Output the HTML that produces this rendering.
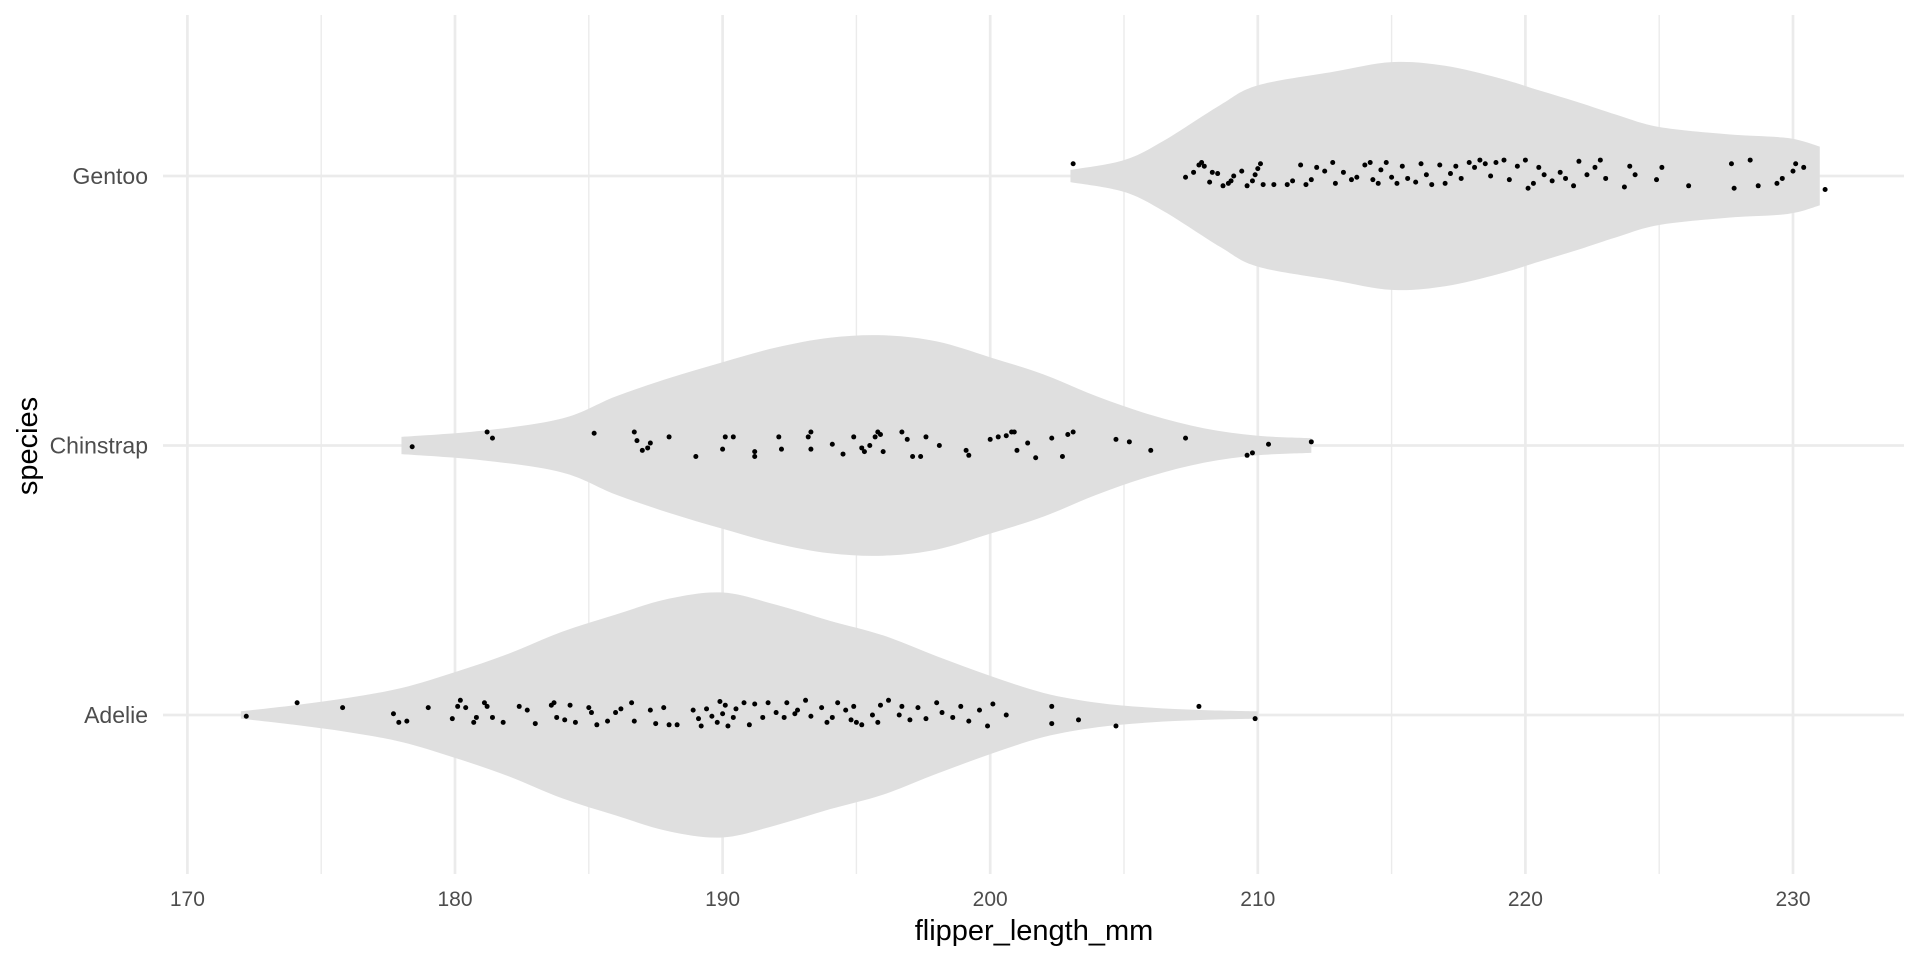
<!DOCTYPE html>
<html><head><meta charset="utf-8">
<style>
html,body{margin:0;padding:0;background:#fff;}
svg{display:block;font-family:"Liberation Sans",Arial,sans-serif;}
</style></head>
<body>
<svg id="chart" width="1920" height="960" viewBox="0 0 1920 960" xmlns="http://www.w3.org/2000/svg">
<g id="grid"></g>
<g id="violins"></g>
<g id="points"></g>
<g id="axes"></g>
<text x="1034" y="940" font-size="29" text-anchor="middle" fill="#000">flipper_length_mm</text>
<text transform="translate(37,446) rotate(-90)" font-size="29" text-anchor="middle" fill="#000">species</text>
</svg>
<script>
const categories = ["Adelie","Chinstrap","Gentoo"];
const xTicks = [170,180,190,200,210,220,230];
const xMinor = [175,185,195,205,215,225];
// violin density profiles (value grid, relative half-width)
const adelieGrid = [172,174,176,178,180,182,184,186,188,190,192,194,196,198,200,202,204,206,208,210];
const adelieDens = [3,8,14,22,35,50,68,82,95,100,90,77,65,48,32,18,10,6,4,3];
const chinGrid = [178,181,184,186,188,190,192,194,196,198,200,202,204,206,208,210,212];
const chinDens = [7,12,22,40,55,68,80,88,90,85,72,58,40,25,14,8,6];
const gentooGrid = [203,205,206.5,208.6,210,212.8,215,217,219,220.5,222,223.4,225,227.6,229.8,231];
const gentooDens = [5,13,29,58,74,85,93,90,80,70,60,50,40,34,31,24];
// observations and vertical jitter (jitter in 1/220 of category spacing)
const adelieVals = [172.2,174.1,175.8,177.7,177.9,178.2,179.0,179.9,180.1,180.2,180.4,180.7,180.8,181.1,181.2,181.4,181.8,182.4,182.7,183.0,183.6,183.7,183.8,184.1,184.3,184.5,185.0,185.1,185.3,185.7,186.0,186.2,186.6,186.7,187.3,187.5,187.8,188.0,188.3,188.9,189.1,189.2,189.4,189.6,189.8,189.9,190.0,190.1,190.2,190.4,190.5,190.8,191.0,191.2,191.5,191.7,192.0,192.3,192.4,192.7,192.8,193.1,193.3,193.7,193.9,194.1,194.3,194.6,194.8,194.9,195.0,195.2,195.6,195.8,195.9,196.2,196.6,196.7,197.0,197.3,197.6,198.0,198.2,198.6,198.9,199.2,199.6,199.9,200.1,200.6,202.3,202.3,203.3,204.7,207.8,209.9];
const adelieJit = [1,-10,-6,-1,6,5,-6,3,-7,-12,-6,6,2,-10,-7,2,6,-7,-4,7,-8,-10,2,4,-8,6,-6,-2,8,5,-2,-5,-10,5,-4,7,-6,8,8,-4,3,9,-5,1,6,-11,-1,-8,9,2,-5,-10,8,-9,2,-10,-2,2,-10,-1,-4,-12,1,-6,6,2,-10,-4,4,-7,6,8,0,6,-8,-12,0,-7,4,-6,3,-10,-2,2,-7,5,-4,9,-9,0,7,-7,4,9,-7,3];
const chinVals = [178.4,181.2,181.4,185.2,186.7,186.8,187.0,187.2,187.3,188.0,189.0,190.0,190.1,190.4,191.2,191.2,192.1,192.2,193.2,193.3,193.3,194.1,194.5,194.9,195.2,195.3,195.5,195.7,195.8,195.9,196.0,196.7,196.9,197.1,197.4,197.6,198.1,199.1,199.2,200.0,200.3,200.6,200.8,200.9,201.0,201.4,201.7,202.3,202.7,202.9,203.1,204.7,205.2,206.0,207.3,209.6,209.8,210.4,212.0];
const chinJit = [1,-11,-6,-10,-11,-4,4,2,-2,-7,9,3,-7,-7,5,9,-7,3,-7,-11,3,-1,7,-7,2,5,0,-7,-11,-9,5,-11,-5,9,9,-7,0,4,8,-5,-7,-8,-11,-11,4,-2,10,-6,9,-9,-11,-5,-3,4,-6,8,6,-1,-3];
const gentooVals = [203.1,207.3,207.6,207.8,207.9,208.0,208.2,208.3,208.5,208.7,208.9,209.0,209.1,209.4,209.6,209.8,209.9,210.0,210.1,210.2,210.6,211.1,211.3,211.6,211.8,212.0,212.2,212.5,212.8,212.9,213.2,213.5,213.7,214.0,214.2,214.3,214.5,214.6,214.8,215.0,215.2,215.4,215.6,215.9,216.1,216.3,216.5,216.8,217.0,217.2,217.4,217.6,217.9,218.1,218.3,218.5,218.7,218.9,219.2,219.4,219.7,220.0,220.1,220.3,220.5,220.7,221.0,221.3,221.5,221.8,222.0,222.3,222.6,222.8,223.0,223.7,223.9,224.1,224.9,225.1,226.1,227.7,227.8,228.4,228.7,229.4,229.6,230.0,230.1,230.4,231.2];
const gentooJit = [-10,1,-3,-9,-11,-8,5,-3,-2,8,6,4,0,-4,8,4,-1,-6,-10,7,7,7,4,-9,7,3,-7,-4,-11,6,-3,3,1,-9,-11,3,6,-5,-11,1,6,-8,2,5,-10,-1,7,-9,6,-2,-8,2,-11,-7,-13,-10,0,-11,-13,3,-8,-13,10,6,-7,-1,4,-3,2,8,-12,-1,-7,-13,2,9,-8,-1,3,-7,8,-10,10,-13,8,6,2,-4,-10,-7,11];

const NS="http://www.w3.org/2000/svg";
const X0=187.4, XPU=26.76, Y0=715, YSP=269.5, DSCALE=1.2245;
function xs(v){return X0+(v-170)*XPU;}
function ys(i){return Y0-i*YSP;}
function mk(tag,attrs,parent){const e=document.createElementNS(NS,tag);for(const k in attrs)e.setAttribute(k,attrs[k]);parent.appendChild(e);return e;}

const grid=document.getElementById('grid');
xMinor.forEach(v=>{
  const l=mk('line',{x1:xs(v),x2:xs(v),y1:15,y2:874,stroke:'#ebebeb','stroke-width':1.4},grid);
  
  
});
xTicks.forEach(v=>{
  const l=mk('line',{x1:xs(v),x2:xs(v),y1:15,y2:874,stroke:'#ebebeb','stroke-width':2.7},grid);
  
  
});
categories.forEach((c,i)=>{
  const l=mk('line',{x1:163,x2:1904,y1:ys(i),y2:ys(i),stroke:'#ebebeb','stroke-width':2.7},grid);
  
  
});

const axes=document.getElementById('axes');
xTicks.forEach(v=>{
  const t=mk('text',{x:xs(v),y:906,'font-size':21,'text-anchor':'middle',fill:'#4d4d4d'},axes);
  t.textContent=v;
  
  
});
categories.forEach((c,i)=>{
  const t=mk('text',{x:148,y:ys(i)+8,'font-size':23,'text-anchor':'end',fill:'#4d4d4d'},axes);
  t.textContent=c;
  
  
});

function smoothPath(pts){
  let d='M'+pts[0][0]+','+pts[0][1];
  for(let i=0;i<pts.length-1;i++){
    const p0=pts[Math.max(0,i-1)],p1=pts[i],p2=pts[i+1],p3=pts[Math.min(pts.length-1,i+2)];
    const c1=[p1[0]+(p2[0]-p0[0])/6,p1[1]+(p2[1]-p0[1])/6];
    const c2=[p2[0]-(p3[0]-p1[0])/6,p2[1]-(p3[1]-p1[1])/6];
    d+=' C'+c1[0]+','+c1[1]+' '+c2[0]+','+c2[1]+' '+p2[0]+','+p2[1];
  }
  return d;
}
const violins=document.getElementById('violins');
const vdata=[[adelieGrid,adelieDens],[chinGrid,chinDens],[gentooGrid,gentooDens]];
vdata.forEach(([g,d],i)=>{
  const cy=ys(i);
  const top=g.map((v,k)=>[xs(v),cy-d[k]*DSCALE]);
  const bot=g.map((v,k)=>[xs(v),cy+d[k]*DSCALE]).reverse();
  let p=smoothPath(top);
  p+=' L'+bot[0][0]+','+bot[0][1]+smoothPath(bot).replace(/^M[^C]*/,' ')+' Z';
  const e=mk('path',{d:p,fill:'#dfdfdf',stroke:'none'},violins);
  
  
});

const pts=document.getElementById('points');
const pdata=[[adelieVals,adelieJit],[chinVals,chinJit],[gentooVals,gentooJit]];
pdata.forEach(([vals,jit],i)=>{
  const n=Math.min(vals.length,jit.length);
  for(let k=0;k<n;k++){
    const c=mk('circle',{cx:xs(vals[k]),cy:ys(i)+jit[k]/220*YSP,r:2.5,fill:'#000'},pts);
    
    
  }
});
</script>
</body></html>
